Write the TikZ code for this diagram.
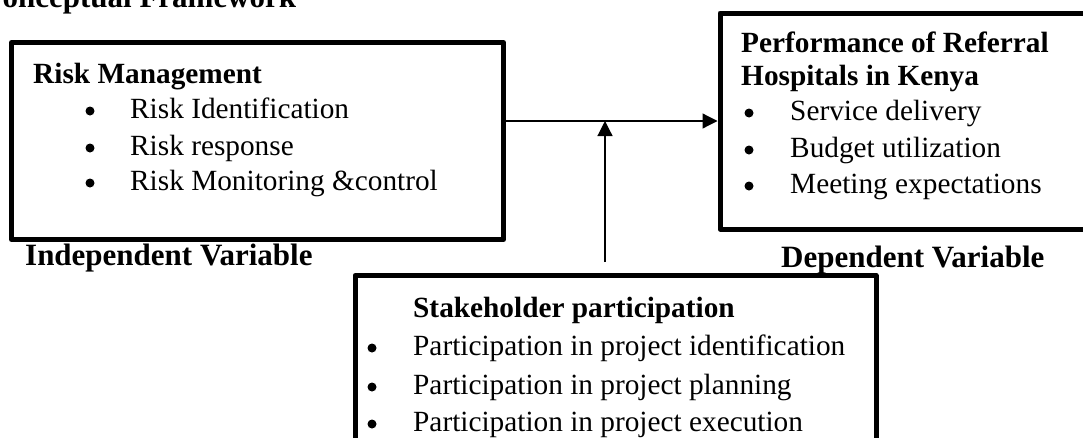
\documentclass[tikz,border=0pt]{standalone}
\usepackage{fontspec}
\setmainfont{Liberation Serif}
\usetikzlibrary{arrows.meta}
\begin{document}
\begin{tikzpicture}[x=1pt,y=-1pt,
  box/.style={draw, line width=5pt, line join=round, inner sep=0pt},
  txt/.style={anchor=base west, inner sep=0pt, font=\fontsize{29.3}{37}\selectfont},
  head/.style={txt, font=\fontsize{29.3}{37}\selectfont\bfseries},
  varlabel/.style={txt, font=\fontsize{31}{37}\selectfont\bfseries},
  dot/.style={circle, fill, inner sep=0pt, minimum size=9pt},
  link/.style={line width=1.2pt, -{Triangle[length=15pt,width=15pt]}}]
\useasboundingbox (0,0) rectangle (1083,437);

% heading, partly outside the page
\node[varlabel] (title) at (-20,7) {Conceptual Framework};

% the three variable boxes
\node[box, minimum width=492pt, minimum height=197pt] (rm) at (257.5,141) {};
\node[box, minimum width=375pt, minimum height=216pt] (perf) at (907.5,121) {};
\node[box, minimum width=521pt, minimum height=195pt] (sp) at (615.5,373) {};

% independent variable
\node[head] (rmT) at (33,83) {Risk Management};
\node[dot] (rmD1) at (90,111) {};
\node[txt] (rm1) at (130,118) {Risk Identification};
\node[dot] (rmD2) at (90,148) {};
\node[txt] (rm2) at (130,155) {Risk response};
\node[dot] (rmD3) at (90,183) {};
\node[txt] (rm3) at (130,190) {Risk Monitoring \&control};

% dependent variable
\node[head] (perfT1) at (741,52) {Performance of Referral};
\node[head] (perfT2) at (741,85) {Hospitals in Kenya};
\node[dot] (pD1) at (749,113) {};
\node[txt] (p1) at (790,120) {Service delivery};
\node[dot] (pD2) at (749,150) {};
\node[txt] (p2) at (790,157) {Budget utilization};
\node[dot] (pD3) at (749,186) {};
\node[txt] (p3) at (790,193) {Meeting expectations};

% moderating variable
\node[head] (spT) at (413,317) {Stakeholder participation};
\node[dot] (sD1) at (372,348) {};
\node[txt] (s1) at (413,355) {Participation in project identification};
\node[dot] (sD2) at (372,387) {};
\node[txt] (s2) at (413,394) {Participation in project planning};
\node[dot] (sD3) at (372,424) {};
\node[txt] (s3) at (413,431) {Participation in project execution};

% captions
\node[varlabel] (indep) at (25,265) {Independent Variable};
\node[varlabel] (dep) at (781,267) {Dependent Variable};

% connectors
\coordinate (mod) at (605,262);
\draw[link] (rm.east |- perf.west) -- (perf.west);
\draw[link] (mod) -- (mod |- perf.west);
\end{tikzpicture}
\end{document}
